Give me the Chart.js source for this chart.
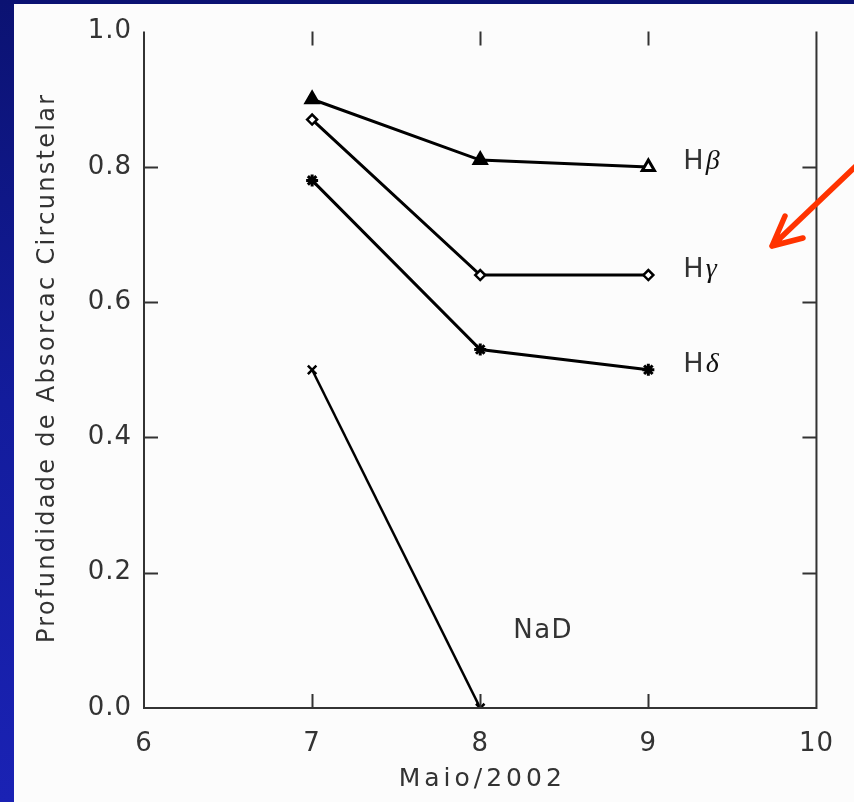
<!DOCTYPE html>
<html><head><meta charset="utf-8">
<script src="https://cdn.jsdelivr.net/npm/chart.js@4/dist/chart.umd.min.js"></script>
<style>
html,body{margin:0;padding:0;width:854px;height:802px;overflow:hidden;}
body{background:linear-gradient(to bottom,#0b1272 0%,#131c9c 50%,#1a22b4 100%);}
#panel{position:absolute;left:14px;top:4px;width:840px;height:798px;background:#fcfcfc;}
canvas{position:absolute;left:0;top:0;}
</style></head>
<body><div id="panel"><canvas id="c" width="840" height="798"></canvas></div>
<script>
// ---- data ----
const days = [7, 8, 9];
const hBeta  = [0.90, 0.81, 0.80];
const hGamma = [0.87, 0.64, 0.64];
const hDelta = [0.78, 0.53, 0.50];
const naDDays = [7, 8];
const naD = [0.50, 0.00];
const seriesNames = ['H\u03B2', 'H\u03B3', 'H\u03B4', 'NaD'];
const xTicks = [6, 7, 8, 9, 10];
const yTicks = [0.0, 0.2, 0.4, 0.6, 0.8, 1.0];
const xTitle = 'Maio/2002';
const yTitle = 'Profundidade de Absorcac Circunstelar';

const pts = (xs, ys) => xs.map((x, i) => ({x, y: ys[i]}));
const FONT = '"DejaVu Sans", sans-serif';
const TXT = '#333';

const framePlugin = {
  id: 'frame',
  beforeDraw(chart) { chart.ctx.letterSpacing = '1px'; },
  afterDatasetsDraw(chart) {
    const ctx = chart.ctx, xs = chart.scales.x, ys = chart.scales.y;
    const L = xs.left, R = xs.right, T = ys.top, B = ys.bottom, tl = 14;
    ctx.save();
    ctx.letterSpacing = '0px';
    ctx.strokeStyle = '#333'; ctx.lineWidth = 2;
    ctx.beginPath();
    ctx.moveTo(L, T); ctx.lineTo(L, B); ctx.lineTo(R, B); ctx.lineTo(R, T);
    xTicks.slice(1, -1).forEach(v => {
      const px = Math.round(xs.getPixelForValue(v)) + 0.5;
      ctx.moveTo(px, B); ctx.lineTo(px, B - tl);
      ctx.moveTo(px, T); ctx.lineTo(px, T + tl);
    });
    yTicks.slice(1, -1).forEach(v => {
      const py = Math.round(ys.getPixelForValue(v)) + 0.5;
      ctx.moveTo(L, py); ctx.lineTo(L + tl, py);
      ctx.moveTo(R, py); ctx.lineTo(R - tl, py);
    });
    ctx.stroke();

    // axis titles
    ctx.fillStyle = TXT; ctx.textAlign = 'center'; ctx.textBaseline = 'middle';
    ctx.font = '25px ' + FONT; ctx.letterSpacing = '4px';
    ctx.fillText(xTitle, (L + R) / 2 + 2, 775);
    ctx.save();
    ctx.translate(34, (T + B) / 2 - 1);
    ctx.rotate(-Math.PI / 2);
    ctx.font = '24px ' + FONT; ctx.letterSpacing = '2.3px';
    ctx.fillText(yTitle, 1, 0);
    ctx.restore();

    // series labels
    const lx = xs.getPixelForValue(9) + 35;
    const labelY = [hBeta[2], hGamma[2], hDelta[2]];
    ctx.textBaseline = 'alphabetic'; ctx.textAlign = 'left';
    for (let i = 0; i < 3; i++) {
      const y = ys.getPixelForValue(labelY[i]) + 2;
      ctx.font = '27px ' + FONT;
      ctx.letterSpacing = '0px';
      ctx.fillStyle = TXT;
      ctx.fillText('H', lx, y);
      const w = ctx.measureText('H').width;
      ctx.font = 'italic 28px "Liberation Serif", serif';
      ctx.fillStyle = '#111';
      ctx.fillText(seriesNames[i].slice(1), lx + w + 2, y);
    }
    ctx.fillStyle = TXT;
    ctx.font = '26px ' + FONT; ctx.letterSpacing = '1.5px';
    ctx.fillText(seriesNames[3], xs.getPixelForValue(8) + 33, ys.getPixelForValue(0.1) - 2);

    // red arrow
    ctx.strokeStyle = '#ff3300'; ctx.lineWidth = 5.5; ctx.lineCap = 'round'; ctx.lineJoin = 'round';
    ctx.beginPath();
    ctx.moveTo(842, 162); ctx.lineTo(758, 242);
    ctx.moveTo(771, 212); ctx.lineTo(758, 242); ctx.lineTo(789, 234);
    ctx.stroke();
    ctx.restore();
  }
};

const common = {borderColor: '#000', pointBorderColor: '#000', tension: 0, fill: false};
new Chart(document.getElementById('c'), {
  type: 'line',
  data: {
    datasets: [
      {...common, label: seriesNames[0], data: pts(days, hBeta), borderWidth: 3,
        pointStyle: 'triangle', pointRadius: 7, pointBackgroundColor: ['#000', '#000', '#fff'], pointBorderWidth: 3},
      {...common, label: seriesNames[1], data: pts(days, hGamma), borderWidth: 3,
        pointStyle: 'rectRot', pointRadius: 5, pointBackgroundColor: '#fff', pointBorderWidth: 2.5},
      {...common, label: seriesNames[2], data: pts(days, hDelta), borderWidth: 3,
        pointStyle: 'star', pointRadius: 6, pointBackgroundColor: '#000', pointBorderWidth: 3},
      {...common, label: seriesNames[3], data: pts(naDDays, naD), borderWidth: 2.5,
        pointStyle: 'crossRot', pointRadius: 6, pointBackgroundColor: '#000', pointBorderWidth: 2.5}
    ]
  },
  options: {
    responsive: false, animation: false, devicePixelRatio: 1,
    layout: {padding: {top: 24, right: 35, left: 0, bottom: 0}},
    plugins: {legend: {display: false}, tooltip: {enabled: false}},
    scales: {
      x: {
        type: 'linear', min: 6, max: 10,
        afterBuildTicks: s => { s.ticks = xTicks.map(v => ({value: v})); },
        afterFit: s => { s.height = 94; },
        grid: {display: false, drawTicks: false}, border: {display: false},
        ticks: {padding: 21, color: TXT, font: {family: FONT, size: 26}, maxRotation: 0,
          callback: v => String(v)},
        title: {display: false}
      },
      y: {
        type: 'linear', min: 0, max: 1,
        afterBuildTicks: s => { s.ticks = yTicks.map(v => ({value: v})); },
        afterFit: s => { s.width = 130; },
        grid: {display: false, drawTicks: false}, border: {display: false},
        ticks: {padding: 12, color: TXT, font: {family: FONT, size: 26},
          callback: v => Number(v).toFixed(1)},
        title: {display: false}
      }
    }
  },
  plugins: [framePlugin]
});
</script></body></html>
